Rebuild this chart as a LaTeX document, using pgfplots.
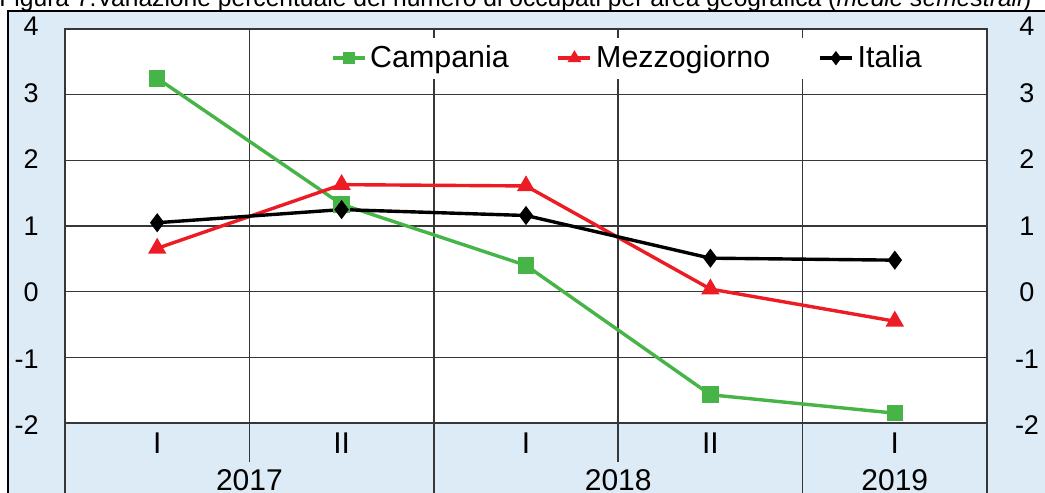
\documentclass[border=0pt]{standalone}
\usepackage{fontspec}
\setmainfont{Liberation Sans}
\usepackage{pgfplots}
\pgfplotsset{compat=1.18}
\definecolor{bgblue}{RGB}{221,235,246}
\definecolor{cgreen}{RGB}{70,180,70}
\definecolor{cred}{RGB}{237,28,36}
\definecolor{gridc}{RGB}{55,55,55}
\begin{document}
\begin{tikzpicture}
\fill[bgblue] (4pt,0pt) rectangle (522.5pt,241pt);
\draw[black,line width=1.3pt] (4pt,0pt) -- (4pt,241pt) -- (522.5pt,241pt);
\node[anchor=base west,inner sep=0pt] at (-0.5pt,243pt) {\resizebox{516pt}{!}{Figura 7.Variazione percentuale del numero di occupati per area geografica (\textit{medie semestrali})}};
\begin{axis}[
  at={(32.5pt,35pt)}, anchor=south west,
  scale only axis, width=461pt, height=197pt,
  xmin=-0.5, xmax=4.5, ymin=-2, ymax=4,
  xtick={0,1,2,3,4}, xticklabels={I,II,I,II,I},
  minor xtick={0.5,1.5,2.5,3.5},
  ytick={-2,-1,0,1,2,3,4}, yticklabels={-2,-1,0,1,2,3,4},
  major tick length=0pt, minor tick length=0pt,
  xminorgrids=true, ymajorgrids=true, xmajorgrids=false,
  grid style={gridc, line width=0.8pt},
  minor grid style={gridc, line width=0.8pt},
  axis line style={gridc, line width=0.8pt},
  axis background/.style={fill=white},
  yticklabel style={font=\fontsize{13.5pt}{15pt}\selectfont, anchor=east, inner sep=0pt, xshift=-13pt, yshift={(\ticknum-3)*0.4pt}},
  xticklabel style={font=\fontsize{15pt}{17pt}\selectfont, anchor=center, yshift=-10pt},
  clip=false,
  legend style={at={(0.611,0.926)}, anchor=center, draw=none, fill=white,
    font=\fontsize{15.2pt}{17pt}\selectfont, legend columns=-1,
    /tikz/every even column/.append style={column sep=22pt}},
  legend image code/.code={\draw[mark repeat=2,mark phase=2,#1,mark options={solid,scale=0.65}] plot coordinates {(0pt,0pt) (8pt,0pt) (16pt,0pt)};},
]
\addplot[cgreen, line width=1.7pt, mark=square*, mark size=3.3pt, mark options={solid}] coordinates {
  (0,3.25) (1,1.33) (2,0.40) (3,-1.57) (4,-1.85)};
\addlegendentry{Campania}
\addplot[cred, line width=1.7pt, mark=triangle*, mark size=3.6pt, mark options={solid}] coordinates {
  (0,0.66) (1,1.63) (2,1.61) (3,0.04) (4,-0.45)};
\addlegendentry{Mezzogiorno}
\addplot[black, line width=1.7pt, mark=diamond*, mark size=3.4pt, mark options={solid}] coordinates {
  (0,1.05) (1,1.25) (2,1.16) (3,0.51) (4,0.48)};
\addlegendentry{Italia}
\draw[gridc, line width=0.8pt] (axis cs:0.5,-2) -- ++(0pt,-19.5pt);
\draw[gridc, line width=0.8pt] (axis cs:2.5,-2) -- ++(0pt,-19.5pt);
\draw[gridc, line width=0.8pt] (axis cs:-0.5,-2) -- ++(0pt,-40pt);
\draw[gridc, line width=0.8pt] (axis cs:1.5,-2) -- ++(0pt,-40pt);
\draw[gridc, line width=0.8pt] (axis cs:3.5,-2) -- ++(0pt,-40pt);
\draw[gridc, line width=0.8pt] (axis cs:4.5,-2) -- ++(0pt,-40pt);
\node[font=\fontsize{15pt}{17pt}\selectfont, yshift=-28.5pt] at (axis cs:0.5,-2) {2017};
\node[font=\fontsize{15pt}{17pt}\selectfont, yshift=-28.5pt] at (axis cs:2.5,-2) {2018};
\node[font=\fontsize{15pt}{17pt}\selectfont, yshift=-28.5pt] at (axis cs:4,-2) {2019};
\end{axis}
\begin{axis}[
  at={(32.5pt,35pt)}, anchor=south west,
  scale only axis, width=461pt, height=197pt,
  xmin=-0.5, xmax=4.5, ymin=-2, ymax=4,
  axis x line=none, axis y line*=right,
  ytick={-2,-1,0,1,2,3,4}, yticklabels={-2,-1,0,1,2,3,4},
  major tick length=0pt,
  axis line style={gridc, line width=0.8pt},
  yticklabel style={anchor=center, xshift=20pt, yshift={(\ticknum-3)*0.4pt}, font=\fontsize{13.5pt}{15pt}\selectfont},
]
\addplot[draw=none] coordinates {(0,0)};
\end{axis}
\pgfresetboundingbox
\useasboundingbox (0pt,0pt) rectangle (522.5pt,246.5pt);
\end{tikzpicture}
\end{document}
